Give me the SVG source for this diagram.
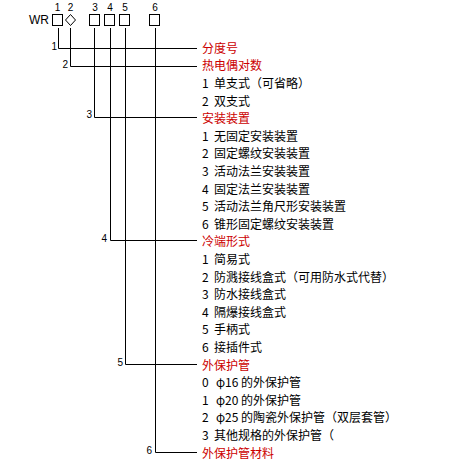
<svg xmlns="http://www.w3.org/2000/svg" width="474" height="464" viewBox="0 0 474 464">
<style>
.bg{fill:#ffffff}
.box{fill:#ffffff;stroke:#000000;stroke-width:1}
.ln{fill:none;stroke:#000000;stroke-width:1}
.num{font-family:"Liberation Sans",Arial,sans-serif;font-size:10px;fill:#000000}
.wr{font-family:"Liberation Sans",Arial,sans-serif;font-size:12px;fill:#000000}
.t{font-family:"Noto Sans CJK SC","Noto Sans",sans-serif;font-size:12px;fill:#000000}
.h{font-family:"Noto Sans CJK SC","Noto Sans",sans-serif;font-size:12px;fill:#cc0000}
</style>
<rect class="bg" x="0" y="0" width="474" height="464"/>
<g id="code">
  <text class="wr" x="29" y="24">WR</text>
  <text class="num" x="57.5" y="10.5" text-anchor="middle">1</text>
  <text class="num" x="70.5" y="10.5" text-anchor="middle">2</text>
  <text class="num" x="95" y="10.5" text-anchor="middle">3</text>
  <text class="num" x="110" y="10.5" text-anchor="middle">4</text>
  <text class="num" x="125" y="10.5" text-anchor="middle">5</text>
  <text class="num" x="155" y="10.5" text-anchor="middle">6</text>
  <rect class="box" x="52.5" y="14.5" width="10" height="11"/>
  <polygon class="box" points="70.5,14.5 75.5,20 70.5,25.5 65.5,20"/>
  <rect class="box" x="89.5" y="14.5" width="10" height="11"/>
  <rect class="box" x="104.5" y="14.5" width="10" height="11"/>
  <rect class="box" x="119.5" y="14.5" width="10" height="11"/>
  <rect class="box" x="149.5" y="14.5" width="10" height="11"/>
</g>
<g id="connectors">
  <polyline class="ln" points="58.5,28 58.5,48.5 197,48.5"/>
  <polyline class="ln" points="70.5,28 70.5,66.5 197,66.5"/>
  <polyline class="ln" points="94.5,28 94.5,117.5 197,117.5"/>
  <polyline class="ln" points="110.5,28 110.5,240.5 197,240.5"/>
  <polyline class="ln" points="125.5,28 125.5,364.5 197,364.5"/>
  <polyline class="ln" points="155.5,28 155.5,452.5 197,452.5"/>
  <text class="num" x="57" y="49.5" text-anchor="end">1</text>
  <text class="num" x="68" y="67.5" text-anchor="end">2</text>
  <text class="num" x="92" y="118" text-anchor="end">3</text>
  <text class="num" x="107" y="241.5" text-anchor="end">4</text>
  <text class="num" x="123" y="365.5" text-anchor="end">5</text>
  <text class="num" x="152" y="453.5" text-anchor="end">6</text>
</g>
<g id="n1"><text class="h" x="202" y="52.8">分度号</text></g>
<g id="n2">
  <text class="h" x="202" y="70.4">热电偶对数</text>
  <text class="t" x="202" y="88">1<tspan x="214">单支式（可省略）</tspan></text>
  <text class="t" x="202" y="105.6">2<tspan x="214">双支式</tspan></text>
</g>
<g id="n3">
  <text class="h" x="202" y="123.2">安装装置</text>
  <text class="t" x="202" y="140.8">1<tspan x="214">无固定安装装置</tspan></text>
  <text class="t" x="202" y="158.4">2<tspan x="214">固定螺纹安装装置</tspan></text>
  <text class="t" x="202" y="176">3<tspan x="214">活动法兰安装装置</tspan></text>
  <text class="t" x="202" y="193.6">4<tspan x="214">固定法兰安装装置</tspan></text>
  <text class="t" x="202" y="211.2">5<tspan x="214">活动法兰角尺形安装装置</tspan></text>
  <text class="t" x="202" y="228.8">6<tspan x="214">锥形固定螺纹安装装置</tspan></text>
</g>
<g id="n4">
  <text class="h" x="202" y="246.4">冷端形式</text>
  <text class="t" x="202" y="264">1<tspan x="214">简易式</tspan></text>
  <text class="t" x="202" y="281.6">2<tspan x="214">防溅接线盒式（可用防水式代替）</tspan></text>
  <text class="t" x="202" y="299.2">3<tspan x="214">防水接线盒式</tspan></text>
  <text class="t" x="202" y="316.8">4<tspan x="214">隔爆接线盒式</tspan></text>
  <text class="t" x="202" y="334.4">5<tspan x="214">手柄式</tspan></text>
  <text class="t" x="202" y="352">6<tspan x="214">接插件式</tspan></text>
</g>
<g id="n5">
  <text class="h" x="202" y="369.6">外保护管</text>
  <text class="t" x="202" y="387.2">0<tspan x="216">φ16</tspan><tspan x="241">的外保护管</tspan></text>
  <text class="t" x="202" y="404.8">1<tspan x="216">φ20</tspan><tspan x="241">的外保护管</tspan></text>
  <text class="t" x="202" y="422.4">2<tspan x="216">φ25</tspan><tspan x="241">的陶瓷外保护管（双层套管）</tspan></text>
  <text class="t" x="202" y="440">3<tspan x="214">其他规格的外保护管（</tspan></text>
</g>
<g id="n6"><text class="h" x="202" y="457.6">外保护管材料</text></g>
</svg>
